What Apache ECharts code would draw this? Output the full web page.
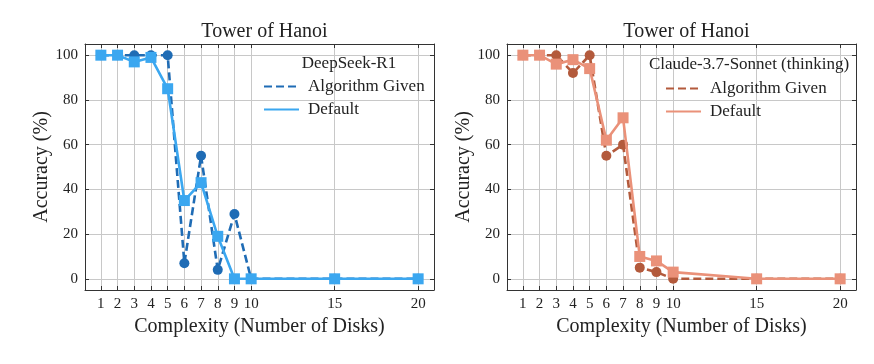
<!DOCTYPE html>
<html><head><meta charset="utf-8">
<script src="https://cdn.jsdelivr.net/npm/echarts@6/dist/echarts.min.js"></script>
<style>html,body{margin:0;padding:0;background:#fff}#c{width:874px;height:364px}</style>
</head><body><div id="c"></div>
<script>
const complexity = [1, 2, 3, 4, 5, 6, 7, 8, 9, 10, 15, 20];
const xTicks = [1, 2, 3, 4, 5, 6, 7, 8, 9, 10, 15, 20];
const yTicks = [0, 20, 40, 60, 80, 100];
const r1Algorithm = [100, 100, 100, 100, 100, 7, 55, 4, 29, 0, 0, 0];
const r1Default = [100, 100, 97, 99, 85, 35, 43, 19, 0, 0, 0, 0];
const claudeAlgorithm = [100, 100, 100, 92, 100, 55, 60, 5, 3, 0, 0, 0];
const claudeDefault = [100, 100, 96, 98, 94, 62, 72, 10, 8, 3, 0, 0];
const panelTitle = 'Tower of Hanoi';
const models = ['DeepSeek-R1', 'Claude-3.7-Sonnet (thinking)'];
const seriesNames = ['Algorithm Given', 'Default'];

const FONT = 'Liberation Serif';
const TXT = '#222';
const colors = [['#1f6cb5', '#3ba7f0'], ['#b35a3c', '#ea9179']];
const grids = [
  {left: 85, right: 440, top: 44, bottom: 74},
  {left: 507, right: 18, top: 44, bottom: 74}
];
const pair = d => complexity.map((x, i) => [x, d[i]]);

const xAxis = [], yAxis = [], series = [], title = [], legend = [];
grids.forEach((g, k) => {
  xAxis.push({
    type: 'value', gridIndex: k, min: 0.05, max: 20.95,
    name: 'Complexity (Number of Disks)', nameLocation: 'middle', nameGap: 25,
    nameTextStyle: {fontFamily: FONT, fontSize: 20, color: TXT},
    axisLine: {show: true, onZero: false, lineStyle: {color: '#333', width: 1}},
    axisTick: {show: true, inside: true, length: 4, customValues: xTicks, lineStyle: {color: '#333'}},
    axisLabel: {customValues: xTicks, fontFamily: FONT, fontSize: 15, color: TXT, margin: 7},
    splitLine: {show: true, lineStyle: {color: '#c8c8c8', width: 1}}
  });
  xAxis.push({
    type: 'value', gridIndex: k, min: 0.05, max: 20.95, position: 'top',
    axisLine: {show: true, onZero: false, lineStyle: {color: '#333', width: 1}},
    axisTick: {show: true, inside: true, length: 4, customValues: xTicks, lineStyle: {color: '#333'}},
    axisLabel: {show: false}, splitLine: {show: false}
  });
  yAxis.push({
    type: 'value', gridIndex: k, min: -5, max: 105,
    name: 'Accuracy (%)', nameLocation: 'middle', nameGap: 33,
    nameTextStyle: {fontFamily: FONT, fontSize: 20, color: TXT},
    axisLine: {show: true, onZero: false, lineStyle: {color: '#333', width: 1}},
    axisTick: {show: true, inside: true, length: 4, customValues: yTicks, lineStyle: {color: '#333'}},
    axisLabel: {customValues: yTicks, fontFamily: FONT, fontSize: 15, color: TXT, margin: 7},
    splitLine: {show: true, lineStyle: {color: '#c8c8c8', width: 1}}
  });
  yAxis.push({
    type: 'value', gridIndex: k, min: -5, max: 105, position: 'right',
    axisLine: {show: true, onZero: false, lineStyle: {color: '#333', width: 1}},
    axisTick: {show: true, inside: true, length: 4, customValues: yTicks, lineStyle: {color: '#333'}},
    axisLabel: {show: false}, splitLine: {show: false}
  });
  const data = k === 0 ? [r1Algorithm, r1Default] : [claudeAlgorithm, claudeDefault];
  seriesNames.forEach((nm, j) => {
    series.push({
      name: models[k] + '|' + nm, type: 'line', xAxisIndex: 2 * k, yAxisIndex: 2 * k,
      data: pair(data[j]),
      symbol: j === 0 ? 'circle' : 'rect', symbolSize: j === 0 ? 10 : 11,
      itemStyle: {color: colors[k][j]},
      lineStyle: {color: colors[k][j], width: 2.6, type: j === 0 ? [8, 4] : 'solid'},
      z: 2 + j, animation: false
    });
  });
  const cx = g.left + ((874 - g.right) - g.left) / 2;
  title.push({
    text: panelTitle, left: cx, top: 17, textAlign: 'center',
    textStyle: {fontFamily: FONT, fontSize: 20, fontWeight: 'normal', color: TXT}
  });
  title.push({
    text: models[k], left: k === 0 ? 344 : 744, top: k === 0 ? 50 : 51, textAlign: 'center',
    textStyle: {fontFamily: FONT, fontSize: 17, fontWeight: 'normal', color: TXT}
  });
  legend.push({
    data: seriesNames.map(nm => models[k] + '|' + nm),
    formatter: n => n.split('|')[1],
    orient: 'vertical', left: k === 0 ? 258 : 660, top: k === 0 ? 73 : 75,
    itemWidth: 35, itemHeight: 14, itemGap: 6,
    itemStyle: {opacity: 0},
    textStyle: {fontFamily: FONT, fontSize: 17, color: TXT, padding: [0, 0, 0, 4]},
    selectedMode: false
  });
});

const chart = echarts.init(document.getElementById('c'), null, {renderer: 'canvas'});
chart.setOption({
  backgroundColor: '#fff', animation: false,
  grid: grids.map(g => Object.assign({containLabel: false}, g)),
  title, legend, xAxis, yAxis, series
});
</script></body></html>
